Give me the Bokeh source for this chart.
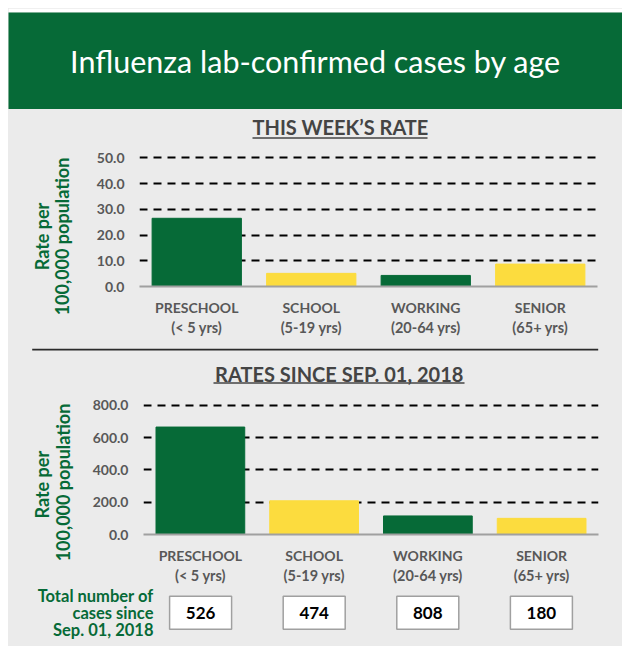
import math
from bokeh.plotting import figure
from bokeh.models import (FactorRange, Range1d, FixedTicker, NumeralTickFormatter,
                          CategoricalAxis, ColumnDataSource)
from bokeh.layouts import column, row
from bokeh.core.properties import value
from bokeh.embed import file_html
from bokeh.resources import INLINE

# ---------------- data ----------------
categories = ["PRESCHOOL", "SCHOOL", "WORKING", "SENIOR"]
age_ranges = ["(< 5 yrs)", "(5-19 yrs)", "(20-64 yrs)", "(65+ yrs)"]
week_rate = [26.5, 5.1, 4.3, 8.7]
season_rate = [666.0, 209.0, 115.0, 100.0]
season_totals = [526, 474, 808, 180]
week_ticks = [0, 10, 20, 30, 40, 50]
season_ticks = [0, 200, 400, 600, 800]

TITLE = "Influenza lab-confirmed cases by age"
WEEK_TITLE = "THIS WEEK\u2019S RATE"
SEASON_TITLE = "RATES SINCE SEP. 01, 2018"
YLABEL_1 = ["Rate per", "100,000 population"]
YLABEL_2 = ["Rate  per", "100,000 population"]
TOTALS_LABEL = ["Total number of", "cases since", "Sep. 01, 2018"]

# ---------------- style ----------------
FONT = "Lato"
GREEN = "#066a37"
YELLOW = "#fcdc3e"
BG = "#ebebeb"
DARK = "#444444"
TICK = "#585858"
bar_colors = [GREEN, YELLOW, GREEN, YELLOW]
W = 614
YLW = 80  # width of the y-title strip
BGSTYLE = {"background-color": BG}


def blank(width, height, x_range, y_range, fill=BG, border=BG, top=0):
    p = figure(width=width, height=height, output_backend="svg", toolbar_location=None,
               x_range=x_range, y_range=y_range, x_axis_location=None, y_axis_location=None,
               background_fill_color=fill, border_fill_color=border, outline_line_color=None,
               min_border_left=0, min_border_right=0, min_border_top=top, min_border_bottom=0,
               frame_align=False)
    p.grid.visible = False
    return p


def txt(p, x, y, t, size, color, style="bold", align="center", angle=0.0):
    p.text(x=[x], y=[y], text=[t], text_font=value(FONT), text_font_size=size,
           text_font_style=style, text_color=color, text_align=align,
           text_baseline="middle", angle=angle)


def style_cat_axis(ax, standoff, line, size):
    ax.axis_line_color = "#a0a0a0" if line else None
    ax.axis_line_width = 2
    ax.major_tick_line_color = None
    ax.minor_tick_line_color = None
    ax.major_tick_out = 0
    ax.major_tick_in = 0
    ax.minor_tick_out = 0
    ax.major_label_standoff = standoff
    ax.major_label_text_font = FONT
    ax.major_label_text_font_size = size
    ax.major_label_text_font_style = "bold"
    ax.major_label_text_color = TICK


def chart(values, y_end, ticks, height, mb):
    p = figure(width=W - YLW, height=height, output_backend="svg", toolbar_location=None,
               x_range=FactorRange(*categories), y_range=Range1d(0, y_end),
               background_fill_color=BG, border_fill_color=BG, outline_line_color=None,
               min_border_left=mb[0], min_border_right=mb[1],
               min_border_top=mb[2], min_border_bottom=mb[3], frame_align=False)
    p.extra_x_ranges = {"ages": FactorRange(*age_ranges)}
    src = ColumnDataSource(dict(cat=categories, val=values, col=bar_colors))
    p.vbar(x="cat", top="val", width=0.78, fill_color="col", line_color="col", source=src)
    ya = p.yaxis[0]
    ya.ticker = FixedTicker(ticks=ticks)
    ya.formatter = NumeralTickFormatter(format="0.0")
    ya.axis_line_color = None
    ya.major_tick_line_color = None
    ya.minor_tick_line_color = None
    ya.major_tick_out = 0
    ya.major_tick_in = 0
    ya.minor_tick_out = 0
    ya.major_label_standoff = 15
    ya.major_label_text_font = FONT
    ya.major_label_text_font_size = "14px"
    ya.major_label_text_font_style = "bold"
    ya.major_label_text_color = TICK
    style_cat_axis(p.xaxis[0], 12, True, "14px")
    xb = CategoricalAxis(x_range_name="ages")
    style_cat_axis(xb, 0, False, "14.5px")
    p.add_layout(xb, "below")
    p.xgrid.grid_line_color = None
    p.ygrid.ticker = FixedTicker(ticks=ticks[1:])
    p.ygrid.grid_line_color = "black"
    p.ygrid.grid_line_width = 2
    p.ygrid.grid_line_dash = "8 6"
    return p


# ---------------- header (page y 8..109) ----------------
head = blank(W, 101, Range1d(0, 1), Range1d(0, 1), fill=GREEN, border="white", top=4)
txt(head, 0.5, 0.5, TITLE, "30.5px", "white", style="normal")

# ---------------- section 1 title (page y 109..142) ----------------
t1 = blank(W, 33, Range1d(0, W), Range1d(33, 0))
txt(t1, 332, 17.5, WEEK_TITLE, "20px", DARK)
t1.segment(x0=[244], y0=[28.5], x1=[419], y1=[28.5], line_color=DARK, line_width=1.5)

# ---------------- section 1 chart (page y 142..348) ----------------
H1 = 206
yl1 = blank(YLW, H1, Range1d(0, YLW), Range1d(H1, 0))
txt(yl1, 33.7, 94, YLABEL_1[0], "18px", GREEN, angle=math.pi / 2)
txt(yl1, 53.7, 94, YLABEL_1[1], "18px", GREEN, angle=math.pi / 2)
c1 = chart(week_rate, 52.84, week_ticks, H1, (51, 25, 8, 62))

# ---------------- section 2 title (page y 348..390) ----------------
t2 = blank(W, 42, Range1d(0, W), Range1d(42, 0))
t2.segment(x0=[23.7], y0=[1], x1=[589.7], y1=[1], line_color="#2b2b2b", line_width=2)
txt(t2, 330.7, 25.5, SEASON_TITLE, "20px", DARK)
t2.segment(x0=[205], y0=[34.5], x1=[456], y1=[34.5], line_color=DARK, line_width=1.5)

# ---------------- section 2 chart (page y 390..586) ----------------
H2 = 196
yl2 = blank(YLW, H2, Range1d(0, YLW), Range1d(H2, 0))
txt(yl2, 33.7, 92, YLABEL_2[0], "18px", GREEN, angle=math.pi / 2)
txt(yl2, 54, 92, YLABEL_2[1], "18px", GREEN, angle=math.pi / 2)
c2 = chart(season_rate, 843.0, season_ticks, H2, (55, 24, 8, 51))

# ---------------- totals row (page y 586..646) ----------------
# x in category units (category i centred at i + 0.5), matching the chart above
tot = blank(W, 60, Range1d(-1.191, 4.214), Range1d(60, 0))
for i, t in enumerate(TOTALS_LABEL):
    txt(tot, 0.085, 9.7 + 16.8 * i, t, "16.5px", GREEN, align="right")
centres = [i + 0.5 for i in range(len(categories))]
tot.rect(x=centres, y=[26.3] * 4, width=62, height=33, width_units="screen",
         height_units="screen", fill_color="white", line_color="#a0a0a0", line_width=1.5)
tot.text(x=centres, y=[26.3] * 4, text=[str(n) for n in season_totals],
         text_font=value(FONT), text_font_size="17px", text_font_style="bold",
         text_color="black", text_align="center", text_baseline="middle")

layout = column(head, t1, row(yl1, c1, spacing=0, styles=BGSTYLE), t2,
                row(yl2, c2, spacing=0, styles=BGSTYLE), tot,
                spacing=0, margin=(8, 0, 0, 8), styles=BGSTYLE)
open("out.html", "w").write(file_html(layout, INLINE))
